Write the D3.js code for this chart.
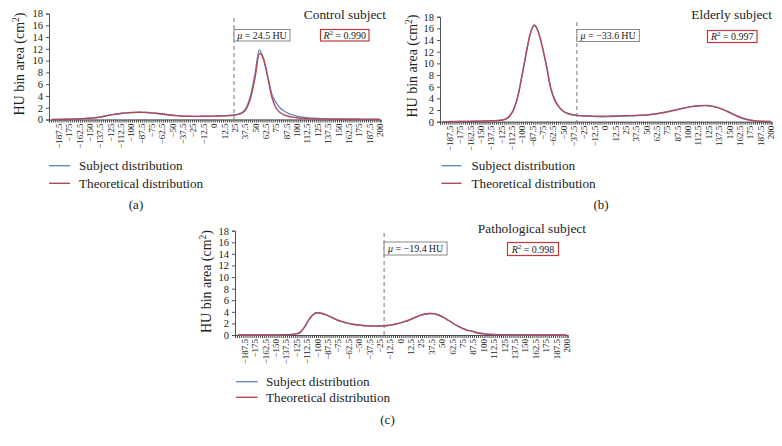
<!DOCTYPE html>
<html>
<head>
<meta charset="utf-8">
<script src="https://cdn.jsdelivr.net/npm/d3@7"></script>
<style>
  html, body { margin: 0; padding: 0; background: #fff; }
  svg { display: block; }
  text { font-family: "Liberation Serif", "DejaVu Serif", serif; fill: #222; }
</style>
</head>
<body>
<svg id="chart" width="782" height="446"></svg>
<script>
// ---------------- DATA ----------------
// HU sample positions (every 5 HU)
const hu = [
  -195,-190,-185,-180,-175,-170,-165,-160,-155,-150,
  -145,-140,-135,-130,-125,-120,-115,-110,-105,-100,
  -95,-90,-85,-80,-75,-70,-65,-60,-55,-50,
  -45,-40,-35,-30,-25,-20,-15,-10,-5,0,
  5,10,15,20,25,30,35,40,45,50,
  55,60,65,70,75,80,85,90,95,100,
  105,110,115,120,125,130,135,140,145,150,
  155,160,165,170,175,180,185,190,195,200
];

// x-axis tick labels (HU)
const tickHU = [-187.5,-175,-162.5,-150,-137.5,-125,-112.5,-100,-87.5,-75,-62.5,-50,-37.5,-25,-12.5,0,
                12.5,25,37.5,50,62.5,75,87.5,100,112.5,125,137.5,150,162.5,175,187.5,200];
const yTicks = [0,2,4,6,8,10,12,14,16,18];

// (a) Control subject
const controlSubject = [
  0.02,0.02,0.03,0.04,0.05,0.07,0.09,0.12,0.17,0.22,
  0.28,0.36,0.46,0.62,0.76,0.87,0.97,1.05,1.12,1.17,
  1.20,1.22,1.21,1.18,1.13,1.06,0.98,0.89,0.80,0.72,
  0.65,0.60,0.56,0.54,0.53,0.53,0.54,0.55,0.56,0.57,
  0.59,0.61,0.64,0.68,0.75,0.92,1.25,2.2,4.4,7.9,
  11.8,10.2,7.4,4.4,2.9,2.0,1.45,1.05,0.78,0.58,
  0.44,0.34,0.27,0.22,0.18,0.15,0.13,0.11,0.10,0.09,
  0.08,0.07,0.07,0.06,0.06,0.05,0.05,0.05,0.04,0.04
];
const controlTheory = [
  0.01,0.02,0.02,0.03,0.04,0.06,0.08,0.11,0.16,0.21,
  0.27,0.35,0.45,0.60,0.75,0.87,0.97,1.06,1.13,1.18,
  1.21,1.22,1.21,1.18,1.13,1.06,0.98,0.89,0.80,0.72,
  0.65,0.60,0.56,0.54,0.53,0.53,0.54,0.55,0.56,0.58,
  0.60,0.62,0.65,0.69,0.76,0.90,1.15,1.95,3.9,7.2,
  11.2,10.4,7.3,3.9,2.0,1.2,0.8,0.55,0.40,0.30,
  0.22,0.17,0.13,0.10,0.08,0.07,0.06,0.05,0.05,0.04,
  0.04,0.03,0.03,0.03,0.03,0.02,0.02,0.02,0.02,0.02
];

// (b) Elderly subject
const elderlySubject = [
  0.02,0.02,0.03,0.03,0.04,0.05,0.06,0.07,0.08,0.10,
  0.12,0.14,0.17,0.20,0.26,0.45,1.0,2.1,4.3,7.8,
  11.6,15.0,16.5,15.3,12.6,9.3,5.6,3.6,2.5,1.8,
  1.4,1.2,1.1,1.02,0.98,0.95,0.92,0.88,0.86,0.86,
  0.88,0.90,0.93,0.96,0.99,1.01,1.03,1.06,1.10,1.15,
  1.22,1.30,1.42,1.55,1.70,1.86,2.02,2.18,2.32,2.46,
  2.58,2.68,2.76,2.80,2.78,2.68,2.50,2.25,1.95,1.62,
  1.25,0.92,0.64,0.42,0.26,0.16,0.10,0.07,0.05,0.04
];
const elderlyTheory = [
  0.01,0.01,0.02,0.02,0.03,0.04,0.05,0.06,0.07,0.09,
  0.11,0.13,0.16,0.19,0.24,0.40,0.9,2.0,4.2,7.7,
  11.5,15.0,16.6,15.4,12.7,9.4,5.7,3.7,2.5,1.8,
  1.45,1.25,1.12,1.04,1.00,0.98,0.96,0.95,0.95,0.95,
  0.96,0.97,0.98,1.00,1.02,1.04,1.06,1.09,1.12,1.17,
  1.23,1.31,1.41,1.53,1.67,1.82,1.98,2.14,2.30,2.45,
  2.58,2.68,2.74,2.76,2.72,2.62,2.46,2.23,1.95,1.63,
  1.30,0.98,0.70,0.47,0.30,0.18,0.10,0.06,0.04,0.03
];

// (c) Pathological subject
const pathoSubject = [
  0,0,0,0,0,0,0,0.01,0.01,0.02,
  0.03,0.04,0.06,0.10,0.20,0.50,1.4,2.6,3.5,3.85,
  3.75,3.5,3.2,2.85,2.55,2.3,2.1,1.95,1.82,1.72,
  1.64,1.58,1.55,1.54,1.55,1.58,1.65,1.75,1.9,2.08,
  2.3,2.55,2.85,3.15,3.42,3.62,3.72,3.68,3.5,3.2,
  2.8,2.35,1.9,1.5,1.15,0.85,0.72,0.52,0.34,0.23,
  0.16,0.11,0.08,0.06,0.05,0.04,0.03,0.03,0.02,0.02,
  0.02,0.01,0.01,0.01,0.01,0.01,0.01,0.01,0.01,0.01
];
const pathoTheory = [
  0,0,0,0,0,0,0,0.01,0.01,0.02,
  0.03,0.04,0.06,0.10,0.20,0.50,1.4,2.6,3.5,3.85,
  3.75,3.5,3.2,2.85,2.55,2.3,2.1,1.95,1.82,1.72,
  1.64,1.58,1.55,1.54,1.55,1.58,1.65,1.75,1.9,2.08,
  2.3,2.55,2.85,3.15,3.42,3.62,3.72,3.68,3.5,3.2,
  2.8,2.35,1.9,1.5,1.15,0.85,0.70,0.48,0.30,0.20,
  0.13,0.09,0.06,0.05,0.04,0.03,0.02,0.02,0.02,0.01,
  0.01,0.01,0.01,0.01,0.01,0.01,0.01,0.01,0.01,0.01
];

const titles = ["Control subject", "Elderly subject", "Pathological subject"];
const muHU = [24.5, -33.6, -19.4];
const muText = ["24.5", "\u221233.6", "\u221219.4"];
const r2Text = ["0.990", "0.997", "0.998"];
const captions = ["(a)", "(b)", "(c)"];
const seriesNames = ["Subject distribution", "Theoretical distribution"];
const subjectSeries = [controlSubject, elderlySubject, pathoSubject];
const theorySeries = [controlTheory, elderlyTheory, pathoTheory];

// ---------------- LAYOUT ----------------
const BLUE = "#6689c6", RED = "#b24a55";
const layout = [
  {x0:49,  x1:380.5, y0:119.5, y1:13.5, ylabX:19,  ylabY:64,  titleX:386, titleY:19,
   r2:[320.5,29.5,48.5,11.5], muBox:[56,29.5,11.5], dashTop:18, legX:49, legW:21, legY:[165.7,183.3], textX:79, capX:136, capY:209},
  {x0:440, x1:771.5, y0:121.7, y1:16.7, ylabX:412.5, ylabY:66, titleX:772, titleY:19,
   r2:[707.5,30.5,49.5,12], muBox:[62.5,29.5,12], dashTop:22, legX:441.5, legW:20, legY:[165.7,183.3], textX:471.5, capX:601, capY:209},
  {x0:235, x1:567.5, y0:335, y1:230.7, ylabX:206, ylabY:281.5, titleX:586, titleY:233,
   r2:[507.5,242.5,51,13], muBox:[63,242,13], dashTop:233, legX:236, legW:21.5, legY:[381.7,397.3], textX:266, capX:387.5, capY:424}
];

const svg = d3.select("#chart");
svg.append("rect").attr("width", 782).attr("height", 446).attr("fill", "#fff");

const fmtTick = v => (v < 0 ? "\u2212" + Math.abs(v) : String(v));

layout.forEach((L, i) => {
  const g = svg.append("g");
  const x = d3.scaleLinear().domain([-198.75, 201.25]).range([L.x0, L.x1]);
  const y = d3.scaleLinear().domain([0, 18]).range([L.y0, L.y1]);

  // Y axis
  const ya = g.append("g").attr("transform", `translate(${L.x0},0)`)
    .call(d3.axisLeft(y).tickValues(yTicks).tickSize(3).tickPadding(3));
  ya.select(".domain").attr("stroke", "#555");
  ya.selectAll(".tick line").attr("stroke", "#555");
  ya.selectAll(".tick text").style("font-family", "Liberation Serif, serif")
    .style("font-size", "10.5px").attr("fill", "#222");

  // X axis: minor ticks at category boundaries
  const minor = d3.range(-198.75, 201.3, 2.5);
  const xa = g.append("g").attr("transform", `translate(0,${L.y0})`)
    .call(d3.axisBottom(x).tickValues(minor).tickSize(3).tickFormat(""));
  xa.select(".domain").attr("stroke", "#555");
  xa.selectAll(".tick line").attr("stroke", "#444");

  // X tick labels (rotated)
  const xl = g.append("g").attr("transform", `translate(0,${L.y0})`)
    .call(d3.axisBottom(x).tickValues(tickHU).tickSize(0).tickPadding(0).tickFormat(fmtTick));
  xl.select(".domain").remove();
  xl.selectAll(".tick text")
    .attr("transform", "rotate(-90)")
    .attr("x", -4).attr("y", 0).attr("dy", "0.33em")
    .attr("text-anchor", "end")
    .style("font-family", "Liberation Serif, serif")
    .style("font-size", "9px").attr("fill", "#222");

  // Y axis title
  const yt = g.append("text")
    .attr("transform", `translate(${L.ylabX},${L.ylabY}) rotate(-90)`)
    .attr("text-anchor", "middle").attr("dy", "0.35em")
    .style("font-size", "14px");
  yt.append("tspan").text("HU bin area (cm");
  yt.append("tspan").attr("baseline-shift", "super").style("font-size", "9.5px").text("2");
  yt.append("tspan").text(")");

  // mean dashed line
  const xm = x(muHU[i]);
  g.append("line").attr("x1", xm).attr("x2", xm).attr("y1", L.dashTop).attr("y2", L.y0)
    .attr("stroke", "#777").attr("stroke-width", 1).attr("stroke-dasharray", "4,3");

  // curves
  const line = d3.line().x(d => x(d[0])).y(d => y(d[1])).curve(d3.curveMonotoneX);
  g.append("path").datum(hu.map((h, k) => [h, subjectSeries[i][k]]))
    .attr("d", line).attr("fill", "none").attr("stroke", BLUE).attr("stroke-width", 1.4);
  g.append("path").datum(hu.map((h, k) => [h, theorySeries[i][k]]))
    .attr("d", line).attr("fill", "none").attr("stroke", RED).attr("stroke-width", 1.4);

  // mu box
  g.append("rect").attr("x", xm).attr("y", L.muBox[1]).attr("width", L.muBox[0]).attr("height", L.muBox[2])
    .attr("fill", "#fff").attr("stroke", "#888").attr("stroke-width", 1);
  const mt = g.append("text").attr("x", xm + L.muBox[0] / 2).attr("y", L.muBox[1] + L.muBox[2] / 2)
    .attr("dy", "0.35em").attr("text-anchor", "middle").style("font-size", "10px");
  mt.append("tspan").style("font-style", "italic").text("\u03bc");
  mt.append("tspan").text(" = " + muText[i] + "\u2009HU");

  // R2 box
  g.append("rect").attr("x", L.r2[0]).attr("y", L.r2[1]).attr("width", L.r2[2]).attr("height", L.r2[3])
    .attr("fill", "#fff").attr("stroke", "#c0393f").attr("stroke-width", 1.2);
  const rt = g.append("text").attr("x", L.r2[0] + L.r2[2] / 2).attr("y", L.r2[1] + L.r2[3] / 2)
    .attr("dy", "0.35em").attr("text-anchor", "middle").style("font-size", "10px");
  rt.append("tspan").style("font-style", "italic").text("R");
  rt.append("tspan").attr("baseline-shift", "super").style("font-size", "7px").text("2");
  rt.append("tspan").text(" = " + r2Text[i]);

  // title
  g.append("text").attr("x", L.titleX).attr("y", L.titleY).attr("text-anchor", "end")
    .style("font-size", "13.4px").text(titles[i]);

  // legend
  [BLUE, RED].forEach((c, k) => {
    g.append("line").attr("x1", L.legX).attr("x2", L.legX + L.legW)
      .attr("y1", L.legY[k]).attr("y2", L.legY[k]).attr("stroke", c).attr("stroke-width", 1.4);
    g.append("text").attr("x", L.textX).attr("y", L.legY[k] + 4.6)
      .style("font-size", "13.2px").text(seriesNames[k]);
  });

  // caption
  g.append("text").attr("x", L.capX).attr("y", L.capY).attr("text-anchor", "middle")
    .style("font-size", "13px").text(captions[i]);
});
</script>
</body>
</html>
